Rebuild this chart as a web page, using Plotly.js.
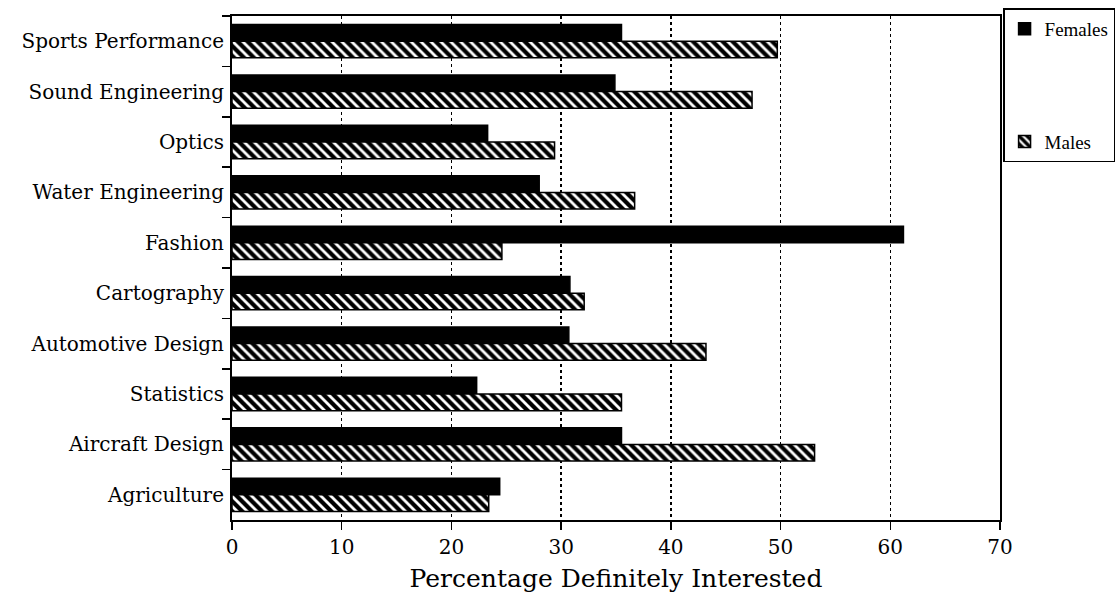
<!DOCTYPE html>
<html>
<head>
<meta charset="utf-8">
<script src="https://cdn.plot.ly/plotly-3.0.1.min.js"></script>
<style>html,body{margin:0;padding:0;background:#fff}#chart{width:1116px;height:593px}</style>
</head>
<body>
<div id="chart"></div>
<script>
const categories = ["Sports Performance","Sound Engineering","Optics","Water Engineering","Fashion","Cartography","Automotive Design","Statistics","Aircraft Design","Agriculture"];
const females = [35.5, 34.9, 23.3, 28.0, 61.2, 30.8, 30.7, 22.3, 35.5, 24.4];
const males   = [49.7, 47.4, 29.4, 36.7, 24.6, 32.1, 43.2, 35.5, 53.1, 23.4];
const xTicks = [0,10,20,30,40,50,60,70];
const seriesNames = ["Females","Males"];

const fontFam = "DejaVu Serif, Liberation Serif, serif";
const legendFam = "Liberation Serif, DejaVu Serif, serif";

const traces = [
  {
    type: "bar", orientation: "h", name: seriesNames[0], legendgroup: "f",
    y: categories, x: females,
    marker: {color: "#000", line: {color: "#000", width: 1.5}},
    hoverinfo: "x+y"
  },
  {
    type: "bar", orientation: "h", name: seriesNames[1], legendgroup: "m",
    y: categories, x: males,
    marker: {
      color: "#fff",
      line: {color: "#000", width: 1.5},
      pattern: {shape: "\\", fgcolor: "#000", bgcolor: "#fff", size: 7, solidity: 0.6, fillmode: "replace"}
    },
    hoverinfo: "x+y"
  }
];

const layout = {
  width: 1116, height: 593,
  margin: {l: 232, r: 116, t: 16, b: 73, autoexpand: false},
  paper_bgcolor: "#fff", plot_bgcolor: "#fff",
  font: {family: fontFam, color: "#000", size: 18},
  barmode: "group", bargap: 0.34, bargroupgap: 0,
  showlegend: true,
  legend: {
    x: 1.004, y: 1.015, xanchor: "left", yanchor: "top",
    bordercolor: "#000", borderwidth: 1.5, bgcolor: "#fff",
    font: {family: legendFam, size: 19, color: "#000"},
    traceorder: "grouped", tracegroupgap: 85, itemwidth: 30
  },
  xaxis: {
    range: [0, 70], tickvals: xTicks, ticktext: xTicks.map(String),
    ticks: "outside", ticklen: 8, tickwidth: 1.5, tickcolor: "#000",
    showline: true, linecolor: "#000", linewidth: 2, mirror: true,
    showgrid: true, gridcolor: "#000", gridwidth: 1.5, griddash: "dot",
    zeroline: false,
    tickfont: {family: fontFam, size: 20, color: "#000"},
    title: {text: "Percentage Definitely Interested", font: {family: fontFam, size: 25, color: "#000"}, standoff: 12}
  },
  yaxis: {
    type: "category", categoryorder: "array", categoryarray: categories,
    autorange: "reversed",
    ticks: "outside", tickson: "boundaries", ticklen: 8, tickwidth: 1.5, tickcolor: "#000",
    showline: true, linecolor: "#000", linewidth: 2, mirror: true,
    showgrid: false, zeroline: false,
    tickfont: {family: fontFam, size: 20, color: "#000"},
    ticklabelstandoff: 2
  }
};

Plotly.newPlot("chart", traces, layout, {displayModeBar: false, staticPlot: true});
</script>
</body>
</html>
